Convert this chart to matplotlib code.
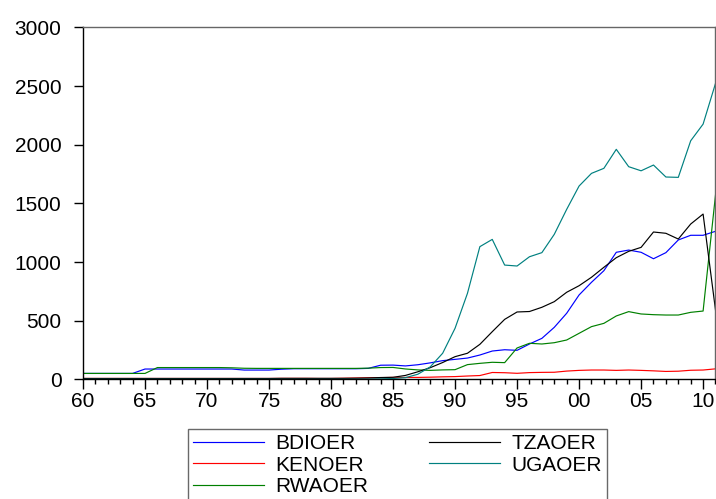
import matplotlib
matplotlib.use("Agg")
import matplotlib.pyplot as plt
import matplotlib.ticker as mticker

plt.rcParams["font.family"] = ["Liberation Sans", "DejaVu Sans"]

# Official exchange rates (LCU per USD), 1960-2011
years = list(range(1960, 2012))

bdioer = [50, 50, 50, 50, 50, 87.5, 87.5, 87.5, 87.5, 87.5,
          87.5, 87.5, 87.5, 78.75, 78.75, 78.75, 86, 90, 90, 90,
          90, 90, 90, 93, 120, 121, 114, 124, 140, 159,
          170, 181, 207, 241, 252, 247, 301, 349, 443, 563,
          719, 827, 926, 1083, 1102, 1083, 1028, 1080, 1188, 1228,
          1228, 1262]

kenoer = [7, 7, 7, 7, 7, 7, 7, 7, 7, 7,
          7, 7, 7, 7, 7, 7, 8, 8, 8, 7,
          7, 9, 11, 13, 14, 16, 16, 16, 18, 21,
          23, 28, 32, 58, 56, 51, 57, 59, 60, 70,
          76, 79, 79, 76, 79, 76, 72, 67, 69, 77,
          79, 89]

rwaoer = [50, 50, 50, 50, 50, 50, 100, 100, 100, 100,
          100, 100, 98, 94, 93, 93, 93, 93, 93, 93,
          93, 93, 93, 95, 100, 101, 88, 80, 76, 80,
          82, 125, 136, 145, 142, 267, 307, 301, 312, 335,
          392, 449, 477, 540, 577, 557, 551, 548, 548, 571,
          582, 1571]

tzaoer = [7, 7, 7, 7, 7, 7, 7, 7, 7, 7,
          7, 7, 7, 7, 7, 7, 8, 8, 8, 8,
          8, 8, 9, 11, 15, 17, 33, 64, 99, 143,
          193, 222, 298, 406, 511, 574, 578, 614, 662, 742,
          798, 870, 955, 1037, 1091, 1125, 1256, 1245, 1196, 1324,
          1409, 591]

ugaoer = [0, 0, 0, 0, 0, 0, 0, 0, 0, 0,
          0, 0, 0, 0, 0, 0, 0, 0, 0, 0,
          0, 0.5, 1, 1.5, 3.6, 6.7, 14, 43, 106, 222,
          435, 733, 1131, 1193, 974, 966, 1045, 1080, 1236, 1449,
          1648, 1756, 1799, 1961, 1813, 1778, 1827, 1725, 1722, 2034,
          2176, 2523]

series = [
    ("BDIOER", bdioer, "#0000ff"),
    ("KENOER", kenoer, "#ff0000"),
    ("RWAOER", rwaoer, "#008000"),
    ("TZAOER", tzaoer, "#000000"),
    ("UGAOER", ugaoer, "#008080"),
]

fig = plt.figure(figsize=(7.16, 4.99), dpi=100)
ax = fig.add_axes([0.1159, 0.2399, 0.8834, 0.7050])

for name, vals, col in series:
    ax.plot(years, vals, color=col, lw=0.85, label=name)

ax.set_xlim(1960, 2011)
ax.set_ylim(0, 3000)

ax.xaxis.set_major_locator(mticker.MultipleLocator(5))
ax.xaxis.set_minor_locator(mticker.MultipleLocator(1))
ax.xaxis.set_major_formatter(mticker.FuncFormatter(lambda v, p: f"{int(round(v)) % 100:02d}"))
ax.yaxis.set_major_locator(mticker.MultipleLocator(500))

ax.tick_params(axis="x", which="major", direction="out", length=7, width=1,
               labelsize=15, pad=2)
ax.tick_params(axis="x", which="minor", direction="out", length=3.8, width=1)
ax.tick_params(axis="y", which="major", direction="out", length=6.5, width=1,
               labelsize=15, pad=9)

for s in ("left", "bottom"):
    ax.spines[s].set_color("black")
    ax.spines[s].set_linewidth(1.0)
for s in ("top", "right"):
    ax.spines[s].set_color("#666666")
    ax.spines[s].set_linewidth(1.0)

# legend box: x 188..607 px, top at 430 px (bottom runs off the figure)
x0 = 188 / 716
w = (607 - 188) / 716
y_top = 1 - 429 / 499
leg = fig.legend(loc="upper left", bbox_to_anchor=(x0, y_top - 0.2, w, 0.2),
                 mode="expand", ncol=2, fontsize=15, frameon=True, fancybox=False,
                 handlelength=3.4, handletextpad=0.55, columnspacing=1.0,
                 labelspacing=0.12, borderpad=0.25, borderaxespad=0)
leg.get_frame().set_edgecolor("#444444")
leg.get_frame().set_linewidth(1.0)

fig.savefig("out.png", dpi=100)
